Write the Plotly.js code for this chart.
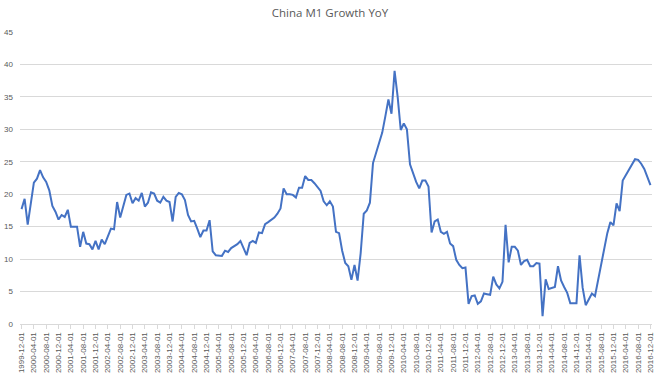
<!DOCTYPE html>
<html>
<head>
<meta charset="utf-8">
<script src="https://cdn.plot.ly/plotly-3.0.1.min.js"></script>
<style>html,body{margin:0;padding:0;background:#fff;}#chart{width:660px;height:377px;}</style>
</head>
<body>
<div id="chart"></div>
<script>
// Monthly China M1 YoY growth (%)
const startYear = 1999, startMonth = 12;
const m1_1999 = [17.7];
const m1_2000 = [19.3, 15.3, 18.7, 21.8, 22.4, 23.7, 22.6, 21.9, 20.6, 18.2, 17.3, 16.1];
const m1_2001 = [16.8, 16.5, 17.6, 15.0, 15.0, 15.0, 11.9, 14.2, 12.4, 12.3, 11.5, 12.8];
const m1_2002 = [11.5, 13.0, 12.3, 13.6, 14.7, 14.6, 18.8, 16.4, 18.2, 19.9, 20.1, 18.6];
const m1_2003 = [19.4, 19.0, 20.2, 18.1, 18.7, 20.3, 20.1, 19.0, 18.7, 19.6, 19.0, 18.8];
const m1_2004 = [15.8, 19.6, 20.2, 20.0, 19.1, 16.8, 15.8, 15.9, 14.7, 13.4, 14.4, 14.4];
const m1_2005 = [16.0, 11.2, 10.6, 10.5, 10.5, 11.3, 11.1, 11.7, 12.0, 12.3, 12.8, 11.8];
const m1_2006 = [10.6, 12.5, 12.8, 12.5, 14.1, 14.0, 15.4, 15.7, 16.0, 16.4, 17.0, 17.8];
const m1_2007 = [20.9, 20.0, 20.0, 19.9, 19.5, 21.0, 21.0, 22.8, 22.2, 22.2, 21.7, 21.0];
const m1_2008 = [20.5, 18.9, 18.3, 18.9, 18.1, 14.2, 14.0, 11.3, 9.4, 8.9, 6.8, 9.1];
const m1_2009 = [6.7, 10.9, 17.0, 17.5, 18.7, 24.8, 26.4, 27.7, 29.5, 32.0, 34.6, 32.4];
const m1_2010 = [39.0, 35.0, 29.9, 30.9, 30.0, 24.6, 23.2, 21.9, 20.9, 22.1, 22.1, 21.2];
const m1_2011 = [14.1, 15.8, 16.1, 14.2, 13.9, 14.2, 12.4, 12.0, 9.9, 9.1, 8.6, 8.7];
const m1_2012 = [3.1, 4.3, 4.4, 3.1, 3.5, 4.7, 4.6, 4.5, 7.3, 6.1, 5.5, 6.5];
const m1_2013 = [15.3, 9.5, 11.9, 11.9, 11.3, 9.1, 9.7, 9.9, 8.9, 8.9, 9.4, 9.3];
const m1_2014 = [1.2, 6.9, 5.4, 5.5, 5.7, 8.9, 6.7, 5.7, 4.8, 3.2, 3.2, 3.2];
const m1_2015 = [10.6, 5.6, 2.9, 3.7, 4.7, 4.3, 6.6, 9.3, 11.4, 14.0, 15.7, 15.2];
const m1_2016 = [18.6, 17.4, 22.1, 22.9, 23.7, 24.6, 25.4, 25.3, 24.7, 23.9, 22.7, 21.4];

const values = [].concat(m1_1999, m1_2000, m1_2001, m1_2002, m1_2003, m1_2004, m1_2005,
  m1_2006, m1_2007, m1_2008, m1_2009, m1_2010, m1_2011, m1_2012, m1_2013, m1_2014,
  m1_2015, m1_2016);

// Month-start category labels
const dates = [];
let y = startYear, m = startMonth;
for (let i = 0; i < values.length; i++) {
  dates.push(y + '-' + String(m).padStart(2, '0') + '-01');
  m++; if (m > 12) { m = 1; y++; }
}
const tickDates = dates.filter((d, i) => i % 4 === 0);

const trace = {
  x: dates, y: values, type: 'scatter', mode: 'lines',
  line: {color: '#4472C4', width: 2}, hoverinfo: 'x+y'
};

const layout = {
  width: 660, height: 377,
  margin: {l: 20, r: 8, t: 32, b: 53},
  paper_bgcolor: '#fff', plot_bgcolor: '#fff',
  showlegend: false,
  font: {family: 'Liberation Sans, Arial, sans-serif', color: '#595959', size: 8},
  title: {text: 'China M1 Growth YoY', x: 0.5, xanchor: 'center', y: 0.975, yanchor: 'top',
          font: {family: 'Open Sans, Liberation Sans, sans-serif', size: 11.5, color: '#595959'}},
  xaxis: {
    type: 'category', tickmode: 'array', tickvals: tickDates, ticktext: tickDates,
    tickangle: -90, showgrid: false, showline: true, linecolor: '#d9d9d9', linewidth: 1,
    ticks: 'outside', ticklen: 4, tickcolor: '#d9d9d9', zeroline: false,
    tickfont: {size: 8, color: '#595959'}, range: [-0.5, values.length - 0.5]
  },
  yaxis: {
    range: [0, 45], dtick: 5, tick0: 0, showgrid: true, gridcolor: '#d9d9d9', gridwidth: 1,
    zeroline: false, showline: false, ticks: '', ticklabelstandoff: 6,
    tickfont: {size: 8, color: '#595959'}
  }
};

Plotly.newPlot('chart', [trace], layout, {displayModeBar: false, staticPlot: true});
</script>
</body>
</html>
